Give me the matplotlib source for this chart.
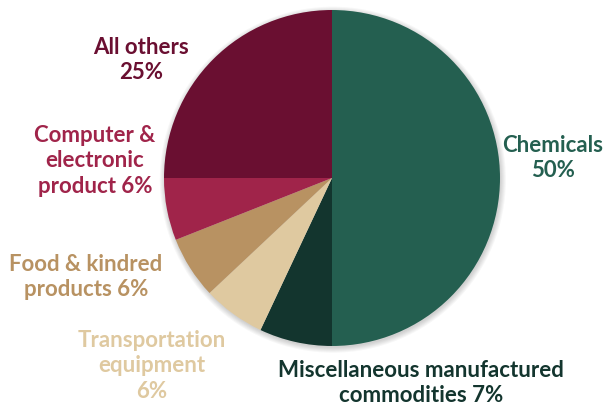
import matplotlib
matplotlib.use("Agg")
import matplotlib.pyplot as plt
from matplotlib.patches import Circle

categories = ["Chemicals", "Miscellaneous manufactured commodities", "Transportation equipment",
              "Food & kindred products", "Computer & electronic product", "All others"]
values = [50, 7, 6, 6, 6, 25]
colors = ["#245f50", "#13352e", "#dfc9a0", "#b89262", "#a0244a", "#6a0f31"]
labels = ["Chemicals\n50%", "Miscellaneous manufactured\ncommodities 7%", "Transportation\nequipment\n6%",
          "Food & kindred\nproducts 6%", "Computer &\nelectronic\nproduct 6%", "All others\n25%"]

W, H = 604, 408
fig = plt.figure(figsize=(W / 100, H / 100), dpi=100)
cx, cy, r = 332, 178, 168
pad = 10
ax = fig.add_axes([(cx - r - pad) / W, (H - cy - r - pad) / H, 2 * (r + pad) / W, 2 * (r + pad) / H])
lim = (r + pad) / r
# soft shadow
for k in range(6):
    ax.add_patch(Circle((0.005, -0.01), 1 + 0.006 * k, color="black", alpha=0.03, lw=0, zorder=0))
ax.pie(values, colors=colors, startangle=90, counterclock=False, radius=1,
       wedgeprops=dict(linewidth=0, zorder=2))
ax.set_xlim(-lim, lim)
ax.set_ylim(-lim, lim)
ax.set_aspect("equal")
ax.axis("off")

# label centres in pixel coords (x, y from top)
label_pos = [(553, 158), (421, 383), (152, 366), (86, 277), (95, 161), (141, 60)]
for lab, col, (px, py) in zip(labels, colors, label_pos):
    fig.text(px / W, 1 - py / H, lab, color=col, ha="center", va="center",
             fontsize=16, fontweight="bold", family="Lato", linespacing=1.25)

fig.savefig("out.png", dpi=100)
